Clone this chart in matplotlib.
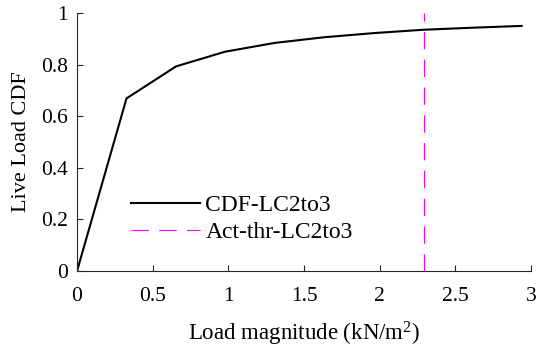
import matplotlib
matplotlib.use("Agg")
import matplotlib.pyplot as plt

load = [0.0, 0.327, 0.654, 0.978, 1.305, 1.632, 1.958, 2.285, 2.612, 2.938]
cdf = [0.0, 0.669, 0.793, 0.850, 0.884, 0.906, 0.922, 0.935, 0.943, 0.950]
threshold = 2.29
xticks = [0, 0.5, 1, 1.5, 2, 2.5, 3]
xticklabels = ["0", "0.5", "1", "1.5", "2", "2.5", "3"]
yticks = [0, 0.2, 0.4, 0.6, 0.8, 1]
yticklabels = ["0", "0.2", "0.4", "0.6", "0.8", "1"]

plt.rcParams['font.family'] = ['Liberation Serif', 'DejaVu Serif']
plt.rcParams['mathtext.fontset'] = 'custom'
plt.rcParams['mathtext.rm'] = 'Liberation Serif'
plt.rcParams['mathtext.it'] = 'Liberation Serif:italic'
plt.rcParams['mathtext.bf'] = 'Liberation Serif:bold'
plt.rcParams['lines.scale_dashes'] = False

fig = plt.figure(figsize=(5.36, 3.47), dpi=100)
ax = fig.add_axes([0.1437, 0.219, 0.847, 0.7435])

ax.plot(load, cdf, color='black', lw=1.5, label='CDF-LC2to3')
ax.axvline(threshold, color='#ff00ff', lw=0.8, dashes=(12.5, 7.5), label='Act-thr-LC2to3')

ax.set_xlim(0, 3)
ax.set_ylim(0, 1)
ax.set_xticks(xticks)
ax.set_xticklabels(xticklabels)
ax.set_yticks(yticks)
ax.set_yticklabels(yticklabels)
for s in ['top', 'right']:
    ax.spines[s].set_visible(False)
for s in ['left', 'bottom']:
    ax.spines[s].set_linewidth(0.8)
    ax.spines[s].set_color('#262626')
ax.tick_params(direction='in', length=4, width=0.8, labelsize=15.5, colors='#262626', labelcolor='black')
ax.tick_params(axis='x', pad=11.5)
ax.tick_params(axis='y', pad=6.5)

ax.set_xlabel('Load magnitude (kN/m$^{\\mathrm{2}}$)', fontsize=16.5, labelpad=10)
ax.set_ylabel('Live Load CDF', fontsize=16, labelpad=7)

leg = ax.legend(loc='upper left', bbox_to_anchor=(0.118, 0.295), frameon=False, fontsize=17,
                handlelength=2.92, handletextpad=0.25, labelspacing=0.22, borderpad=0, borderaxespad=0)

fig.savefig('out.png', dpi=100)
